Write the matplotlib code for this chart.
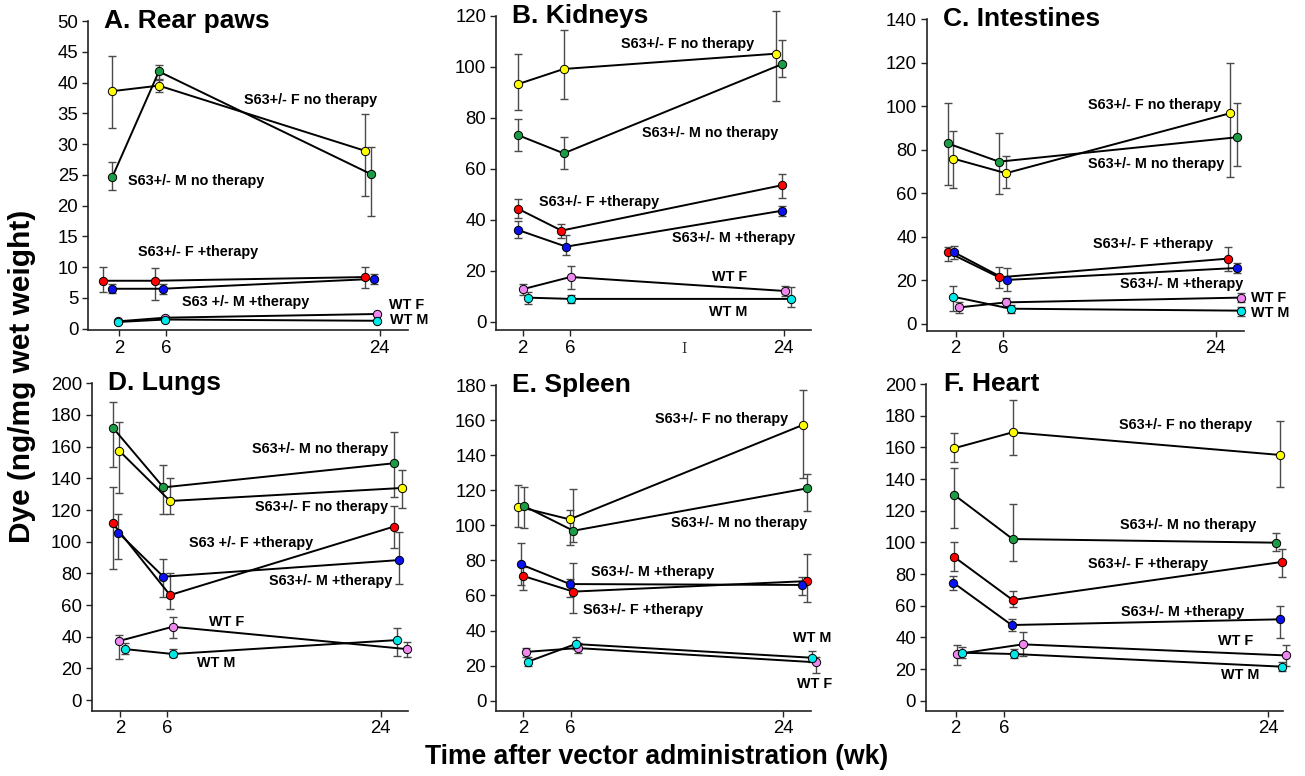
import numpy as np
import matplotlib
matplotlib.use("Agg")
import matplotlib.pyplot as plt

plt.rcParams['font.family'] = ['Liberation Sans', 'DejaVu Sans']

# series order in every panel:
# S63+/- F no therapy, S63+/- M no therapy, S63+/- F +therapy, S63+/- M +therapy, WT F, WT M
colors = ['#ffff00', '#1c9c45', '#ff0000', '#0a10ee', '#ee88ee', '#00e8e8']
weeks = [2, 6, 24]

# A. Rear paws
A_x = [[1.44, 5.38, 22.8], [1.44, 5.38, 23.3], [0.68, 5.07, 22.8],
       [1.44, 5.69, 23.5], [1.9, 5.9, 23.8], [1.9, 5.9, 23.8]]
A_y = [[38.6, 39.5, 28.9], [24.6, 41.8, 25.1], [7.8, 7.8, 8.4],
       [6.5, 6.5, 8.1], [1.2, 1.8, 2.4], [1.1, 1.5, 1.3]]
A_lo = [[32.6, 38.5, 21.5], [22.5, 40.6, 18.3], [5.9, 4.7, 6.6],
        [5.8, 5.7, 7.3], [1.0, 1.6, 2.2], [0.9, 1.3, 1.1]]
A_hi = [[44.3, 40.4, 34.9], [27.1, 42.9, 29.6], [10.0, 9.8, 10.1],
        [7.2, 7.3, 8.9], [1.4, 2.0, 2.6], [1.3, 1.7, 1.5]]

# B. Kidneys
B_x = [[1.63, 5.46, 23.35], [1.63, 5.46, 23.86], [1.63, 5.27, 23.86],
       [1.63, 5.66, 23.86], [2.0, 6.03, 24.1], [2.41, 6.03, 24.6]]
B_y = [[93.2, 99.1, 105.1], [73.1, 66.0, 101.0], [44.2, 35.7, 53.5],
       [35.9, 29.4, 43.5], [12.7, 17.5, 12.0], [9.4, 8.9, 8.9]]
B_lo = [[83.0, 87.5, 86.7], [66.9, 60.0, 96.1], [40.5, 32.9, 48.4],
        [32.8, 26.3, 41.4], [10.6, 12.9, 10.0], [6.9, 7.4, 5.6]]
B_hi = [[104.8, 114.4, 122.0], [79.3, 72.4, 110.5], [48.0, 38.4, 58.0],
        [39.3, 33.9, 45.5], [14.8, 22.0, 14.0], [11.6, 10.4, 13.5]]

# C. Intestines
C_x = [[1.8, 6.26, 25.2], [1.32, 5.67, 25.78], [1.35, 5.67, 25.07],
       [1.86, 6.32, 25.78], [2.31, 6.26, 26.15], [1.8, 6.65, 26.15]]
C_y = [[75.9, 69.2, 96.7], [82.9, 74.5, 85.7], [32.9, 21.4, 30.0],
       [32.9, 20.2, 25.7], [7.6, 9.9, 12.1], [12.5, 7.0, 6.1]]
C_lo = [[62.3, 62.6, 67.3], [63.8, 59.7, 72.7], [28.9, 16.4, 24.5],
        [29.9, 15.1, 23.6], [4.9, 7.6, 10.3], [6.1, 5.2, 3.8]]
C_hi = [[88.7, 77.1, 119.6], [101.3, 87.8, 101.3], [35.5, 26.0, 35.5],
        [35.9, 25.5, 27.8], [10.3, 12.1, 14.1], [17.4, 8.7, 8.0]]

# D. Lungs
D_x = [[1.92, 6.22, 25.77], [1.44, 5.66, 25.1], [1.38, 6.22, 25.1],
       [1.86, 5.66, 25.57], [1.92, 6.45, 26.2], [2.42, 6.45, 25.4]]
D_y = [[157.5, 125.7, 133.9], [171.6, 134.3, 149.5], [111.6, 66.3, 109.5],
       [105.7, 77.9, 88.4], [37.3, 46.3, 32.2], [32.2, 29.1, 37.9]]
D_lo = [[131.0, 117.5, 121.0], [147.4, 117.5, 128.0], [82.7, 57.7, 95.8],
        [89.0, 65.3, 73.3], [25.7, 39.4, 27.4], [29.1, 27.0, 28.0]]
D_hi = [[175.8, 140.0, 145.3], [188.4, 148.4, 169.5], [134.3, 80.0, 122.7],
        [117.5, 89.3, 105.9], [41.3, 52.2, 36.8], [35.8, 32.2, 45.3]]

# E. Spleen
E_x = [[1.58, 5.92, 25.64], [2.06, 6.23, 26.03], [2.0, 6.23, 26.03],
       [1.8, 5.95, 25.61], [2.2, 6.6, 26.76], [2.37, 6.42, 26.4]]
E_y = [[110.6, 103.4, 157.2], [111.0, 96.9, 121.1], [71.1, 62.2, 68.2],
       [77.7, 66.5, 66.0], [27.8, 30.0, 21.9], [22.2, 32.3, 24.5]]
E_lo = [[98.8, 88.8, 126.8], [98.7, 90.7, 108.3], [63.1, 50.2, 56.5],
        [65.8, 58.9, 60.3], [25.1, 27.4, 15.6], [19.8, 29.7, 21.9]]
E_hi = [[123.0, 108.7, 177.2], [122.0, 120.5, 129.3], [76.4, 78.7, 83.6],
        [90.1, 69.4, 70.3], [30.2, 32.7, 25.1], [25.1, 36.1, 28.5]]

# F. Heart
F_x = [[1.86, 6.59, 24.79], [1.86, 6.59, 24.52], [1.86, 6.59, 24.9],
       [1.81, 6.52, 24.79], [2.14, 7.27, 25.2], [2.55, 6.68, 24.95]]
F_y = [[159.4, 169.5, 155.2], [130.1, 102.1, 99.8], [90.9, 63.6, 87.6],
       [74.5, 47.8, 51.4], [29.5, 35.6, 28.6], [30.3, 29.5, 21.5]]
F_lo = [[150.9, 155.2, 134.7], [108.8, 88.2, 94.7], [82.1, 59.4, 78.3],
        [69.9, 44.2, 39.4], [22.5, 28.2, 22.1], [27.2, 26.7, 18.9]]
F_hi = [[169.3, 189.9, 176.8], [146.7, 124.2, 105.7], [100.2, 69.5, 95.6],
        [78.9, 51.4, 60.0], [35.2, 43.2, 35.2], [33.7, 32.6, 24.6]]

FN = 'S63+/- F no therapy'
MN = 'S63+/- M no therapy'
FT = 'S63+/- F +therapy'
MT = 'S63+/- M +therapy'
A_labels = [(12.6, 37.2, FN), (2.76, 24.0, MN), (3.6, 12.4, FT),
            (7.35, 4.3, 'S63 +/- M +therapy'), (24.8, 3.9, 'WT F'), (24.9, 1.5, 'WT M')]
B_labels = [(10.3, 108.8, FN), (12.06, 73.9, MN), (3.38, 47.1, FT),
            (14.56, 32.7, MT), (17.97, 17.6, 'WT F'), (17.7, 3.7, 'WT M')]
C_labels = [(13.17, 100.5, FN), (13.17, 73.3, MN), (13.65, 36.7, FT),
            (15.9, 18.4, MT), (26.96, 12.1, 'WT F'), (26.96, 5.2, 'WT M')]
D_labels = [(13.1, 158.3, MN), (13.4, 122.1, FN), (7.85, 99.4, 'S63 +/- F +therapy'),
            (14.6, 75.4, MT), (9.54, 49.1, 'WT F'), (8.47, 23.6, 'WT M')]
E_labels = [(13.14, 160.4, FN), (14.5, 101.5, MN), (7.7, 73.6, MT),
            (7.08, 51.7, FT), (24.85, 35.5, 'WT M'), (25.13, 9.5, 'WT F')]
F_labels = [(13.85, 173.9, FN), (13.9, 110.9, MN), (11.74, 86.1, FT),
            (13.97, 55.8, MT), (20.55, 37.7, 'WT F'), (20.75, 16.2, 'WT M')]

# F panel has a stretched axis after week 6
k = 1.2155
def fwd(x):
    x = np.asarray(x, dtype=float)
    return np.where(x <= 6, x, 6 + (x - 6) * k)
def inv(x):
    x = np.asarray(x, dtype=float)
    return np.where(x <= 6, x, 6 + (x - 6) / k)

W, H = 1305, 776
fig = plt.figure(figsize=(W / 100, H / 100), dpi=100)

def px_axes(l, t, r, b):
    return fig.add_axes([l / W, 1 - b / H, (r - l) / W, (b - t) / H])

panels = [
    ('A. Rear paws', A_x, A_y, A_lo, A_hi, A_labels, (88, 21, 408, 330), (-0.6, 26.4), (-0.2, 50), 5),
    ('B. Kidneys', B_x, B_y, B_lo, B_hi, B_labels, (496, 15.7, 811, 330), (-0.25, 26.3), (-3.3, 120), 20),
    ('C. Intestines', C_x, C_y, C_lo, C_hi, C_labels, (926.7, 19, 1244, 330.7), (-0.45, 26.4), (-3.1, 140), 20),
    ('D. Lungs', D_x, D_y, D_lo, D_hi, D_labels, (91.7, 383.3, 408.3, 710.7), (-0.39, 26.33), (-6.7, 200), 20),
    ('E. Spleen', E_x, E_y, E_lo, E_hi, E_labels, (496, 385, 811, 710.7), (-0.31, 26.34), (-5.7, 180), 20),
    ('F. Heart', F_x, F_y, F_lo, F_hi, F_labels, (925.7, 384, 1282.7, 710.7), (-0.48, 24.98), (-6.3, 200), 20),
]

for title, xs, ys, los, his, labels, box, xlim, ylim, step in panels:
    ax = px_axes(*box)
    if title.startswith('F.'):
        ax.set_xscale('function', functions=(fwd, inv))
    for i in range(6):
        x = np.array(xs[i]); y = np.array(ys[i])
        lo = np.array(los[i]); hi = np.array(his[i])
        ax.plot(x, y, color='black', lw=1.4, zorder=2, clip_on=False)
        eb = ax.errorbar(x, y, yerr=[y - lo, hi - y], fmt='none', ecolor='#4a4a4a',
                         elinewidth=1.0, capsize=3, capthick=1.0, zorder=1)
        for art in list(eb.lines[1]) + list(eb.lines[2]):
            art.set_clip_on(False)
        ax.plot(x, y, 'o', ms=6, mfc=colors[i], mec='black', mew=0.7, zorder=3, clip_on=False)
    for lx, ly, txt in labels:
        ax.text(lx, ly, txt, ha='left', va='center', fontsize=10.4, fontweight='bold')
    ax.set_xlim(*xlim)
    ax.set_ylim(*ylim)
    ax.set_xticks(weeks)
    ax.set_xticklabels([str(w) for w in weeks])
    ax.set_yticks(np.arange(0, ylim[1] + 0.1, step))
    ax.minorticks_off()
    for s in ['top', 'right']:
        ax.spines[s].set_visible(False)
    for s in ['left', 'bottom']:
        ax.spines[s].set_linewidth(1.2)
        ax.spines[s].set_color('#222222')
    ax.tick_params(direction='out', length=4, width=1, labelsize=13.4, pad=3, colors='#222222')
    ax.tick_params(labelcolor='black')
    ax.text(0.05, 1.0, title, transform=ax.transAxes, ha='left', va='center',
            fontsize=19, fontweight='bold')

fig.text(22 / W, 1 - 376 / H, 'Dye (ng/mg wet weight)', rotation=90, ha='center', va='center',
         fontsize=21.5, fontweight='bold')
fig.text(657 / W, 1 - 757 / H, 'Time after vector administration (wk)', ha='center', va='center',
         fontsize=19.1, fontweight='bold')
fig.text(684 / W, 1 - 349 / H, 'I', ha='center', va='center', fontsize=10,
         family='DejaVu Serif', color='#333333')

fig.savefig('out.png', dpi=100)
